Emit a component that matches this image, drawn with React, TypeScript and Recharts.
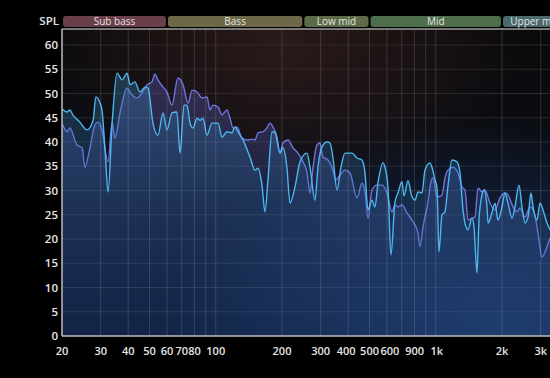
import React from "react";
import {
  AreaChart,
  Area,
  XAxis,
  YAxis,
  CartesianGrid,
  ReferenceLine,
  ReferenceArea,
} from "recharts";

// measurement A (light cyan)
const cyanFreq = [
  20, 21.1, 21.7, 22.4, 24.1, 26, 27.7, 28.5, 29.8, 30.4, 31.4, 32.4, 33.8, 35.6,
  37.5, 39.5, 40.8, 42.9, 45.2, 47.7, 49.2, 51.8, 54.6, 57.6, 60, 63.2, 66.6,
  68.8, 71.7, 74, 76.4, 78.8, 82.2, 84.8, 87.5, 91.2, 96.1, 102.4, 106.7, 112.5,
  118.5, 122.3, 126.2, 133, 143.1, 150.8, 155.6, 162.2, 167.4, 172.7, 180.1,
  185.9, 195.9, 202.1, 210.7, 217.5, 229.1, 241.4, 259.8, 268.1, 282.5, 291.5,
  304, 320.3, 330.6, 341.1, 355.7, 370.9, 386.7, 416.2, 438.6, 462, 476.8, 492,
  513, 529, 546, 575.6, 587.8, 606.6, 625.8, 652.6, 673.6, 702.4, 717, 747.8,
  779.8, 804.6, 830.4, 865.8, 893.4, 941.4, 961, 992, 1013, 1034, 1067, 1101,
  1137, 1185, 1249, 1289, 1330, 1372, 1401, 1461, 1492, 1540, 1572, 1623, 1657,
  1710, 1728, 1801, 1859, 1918, 2000, 2064, 2130, 2221, 2291, 2389, 2466, 2545,
  2626, 2710, 2767, 2885, 2977, 3072, 3204, 3306,
];
const cyanSpl = [
  46.8, 46.2, 46.6, 45.6, 44.1, 42.5, 44.5, 49.3, 48, 46.6, 38.1, 29.7, 43.9, 54.2,
  52.8, 54.2, 51.8, 52.4, 50.3, 51.3, 51.1, 43.9, 41.4, 46, 42.5, 46, 46.2, 37.7,
  47.6, 47.6, 43.9, 42.9, 44.9, 44.5, 44.9, 41.4, 43.9, 43.9, 41, 42.1, 41.9,
  43.1, 42.1, 40.4, 36.9, 34.2, 34.6, 31.1, 25.6, 32.2, 42.1, 41.9, 37.7, 38.8,
  34.6, 27.4, 30.7, 35.9, 37.7, 34.8, 28, 34.8, 39, 40, 39.8, 36.7, 30.1, 34.8,
  37.7, 37.7, 36.7, 36.3, 33.6, 26, 28, 26.6, 31.5, 35.7, 34.8, 30.5, 16.7, 27.6,
  29.5, 31.8, 28.9, 32, 28.7, 28, 29.7, 29.5, 34.2, 35.7, 34.8, 32.2, 30.5, 17.3,
  25, 25.6, 31, 36.3, 35.9, 33.6, 26, 22.5, 21.9, 24.3, 22.5, 13, 23.9, 29.1,
  30.1, 26.6, 23.3, 25.4, 27.4, 23.9, 26.6, 29.5, 27.4, 24.3, 26.6, 31.1, 26.6,
  23.3, 24.5, 29.5, 26.6, 23.9, 27.4, 26, 23.3, 21.9,
];

// measurement B (violet)
const violetFreq = [
  20, 21.1, 21.7, 23.4, 24.7, 25.4, 26.8, 28.2, 29.1, 30.4, 32.4, 33.8, 34.8,
  36.7, 39.5, 41.6, 43.9, 46.2, 48.7, 51.3, 52.9, 54.6, 57.6, 60, 63.2, 67.3, 71,
  74.8, 78, 82.2, 86.6, 91.2, 94.1, 97.1, 102.4, 106.7, 112.5, 116.1, 119.8,
  124.9, 131.6, 138.7, 146.1, 150.8, 155.6, 163.9, 170.9, 176.4, 182, 189.8,
  195.9, 202.1, 213, 224.4, 236.4, 249.1, 259.8, 268.1, 276.7, 288.5, 297.7,
  307.2, 323.7, 337.5, 352, 367, 386.7, 407.6, 438.6, 462, 476.8, 492, 513, 540.6,
  569.6, 600.2, 632.5, 652.6, 673.6, 702.4, 740, 779.8, 804.6, 830.4, 848, 875,
  922, 951.4, 971.4, 1013, 1067, 1101, 1137, 1198, 1262, 1316, 1358, 1401, 1461,
  1508, 1556, 1623, 1674, 1764, 1859, 1959, 2064, 2130, 2244, 2340, 2415, 2545,
  2682, 2796, 2915, 3040, 3204, 3306,
];
const violetSpl = [
  43.9, 42.1, 42.9, 39.4, 38.8, 34.8, 38.8, 43.5, 44.1, 42.5, 35.9, 44.1, 40.8,
  46, 51.1, 49.7, 49.1, 50.1, 51.8, 52.4, 54, 52.8, 51.3, 50.3, 47.6, 53.2, 51.8,
  48, 50.7, 50.3, 49.1, 49.3, 46.6, 47.6, 47.2, 45.6, 46.6, 44.9, 42.9, 43.1,
  40.8, 40.4, 40.6, 40.4, 41.9, 42.1, 42.9, 43.9, 43.1, 41, 37.7, 39.8, 40.4,
  38.8, 37.7, 35.9, 33.8, 29.5, 34.8, 39.4, 39.8, 36.9, 36.3, 34.8, 32.2, 33.2,
  34.2, 33.6, 28.5, 31.5, 29.7, 24.3, 30.1, 31.1, 31.1, 29.5, 25.6, 27, 26.6, 27,
  25.4, 23.9, 22.9, 21.2, 18.4, 22.5, 27.6, 31.8, 32.6, 28.7, 29, 32.6, 34.2,
  34.8, 33.6, 30.7, 30.1, 23.9, 24.3, 24.5, 30.5, 29.7, 30.1, 27.4, 26, 28.5,
  29.5, 29.1, 26.6, 25.6, 26.4, 24.5, 26.6, 25.6, 21.2, 16.3, 18.4, 20.2,
];

const bandNames = ["Sub bass", "Bass", "Low mid", "Mid", "Upper mid"];
const bandStart = [20, 60, 250, 500, 2000];
const bandEnd = [60, 250, 500, 2000, 4000];
const bandColors = ["#6b3f49", "#6c6848", "#5d6b48", "#4d6d4c", "#4a6a6b"];

const freqTicks = [20, 30, 40, 50, 60, 70, 80, 100, 200, 300, 400, 500, 600, 900, 1000, 2000, 3000];
const gridFreqs = [30, 40, 50, 60, 70, 80, 90, 100, 200, 300, 400, 500, 600, 700, 800, 900, 1000, 2000, 3000];
const splTicks = [0, 5, 10, 15, 20, 25, 30, 35, 40, 45, 50, 55, 60];

const cyanData = cyanFreq.map((f, i) => ({ freq: f, spl: cyanSpl[i] }));
const violetData = violetFreq.map((f, i) => ({ freq: f, spl: violetSpl[i] }));

const Y_TOP = 63.3;
const font = "'Open Sans', 'Noto Sans', sans-serif";

const fmtFreq = (v: number) => (v >= 1000 ? `${v / 1000}k` : `${v}`);

// the original nudges a few crowded labels sideways
const tickNudge: Record<number, number> = { 400: -2, 600: 3, 900: -11, 1000: 1 };

const FreqTick = (props: any) => {
  const { x, y, payload } = props;
  const v = payload.value as number;
  return (
    <text
      x={x + (tickNudge[v] || 0)}
      y={y}
      dy="0.71em"
      textAnchor="middle"
      fill="#e6e6e6"
      fontSize={11}
      fontFamily={font}
      fontWeight={600}
    >
      {fmtFreq(v)}
    </text>
  );
};

const BandShape = (props: any) => {
  const { x, y, width, height, name, color } = props;
  return (
    <g>
      <rect x={x + 1} y={y} width={width - 2} height={height} rx={3} ry={3} fill={color} />
      <text
        x={x + width / 2}
        y={y + height / 2 + 3.5}
        textAnchor="middle"
        fontSize={10}
        fontFamily={font}
        fill="#e4e4e4"
      >
        {name}
      </text>
    </g>
  );
};

export default function App() {
  return (
    <div
      style={{
        position: "absolute",
        left: 0,
        top: 0,
        width: 550,
        height: 378,
        background: "#000",
        overflow: "hidden",
      }}
    >
      <span
        style={{
          position: "absolute",
          right: 491,
          top: 13,
          fontFamily: font,
          fontWeight: 600,
          fontSize: 11.5,
          color: "#e6e6e6",
        }}
      >
        SPL
      </span>
      <AreaChart
        width={550}
        height={378}
        margin={{ top: 29, right: 0, bottom: 0, left: 0 }}
      >
        <defs>
          <linearGradient id="bgLin" x1="0" y1="0" x2="0" y2="1">
            <stop offset="0%" stopColor="#0b0a0a" />
            <stop offset="60%" stopColor="#0a0f1b" />
            <stop offset="100%" stopColor="#0c1830" />
          </linearGradient>
          <radialGradient id="glowRed" cx="0.45" cy="0.05" r="0.5">
            <stop offset="0%" stopColor="#382020" stopOpacity={0.7} />
            <stop offset="100%" stopColor="#382020" stopOpacity={0} />
          </radialGradient>
          <radialGradient id="glowBlue" cx="0.9" cy="1" r="0.7">
            <stop offset="0%" stopColor="#2c5596" stopOpacity={0.5} />
            <stop offset="100%" stopColor="#2c5596" stopOpacity={0} />
          </radialGradient>
          <linearGradient id="cyanFill" x1="0" y1="0" x2="0" y2="1">
            <stop offset="0%" stopColor="#3a8ac0" stopOpacity={0.34} />
            <stop offset="100%" stopColor="#2a5aa0" stopOpacity={0.1} />
          </linearGradient>
          <linearGradient id="violetFill" x1="0" y1="0" x2="0" y2="1">
            <stop offset="0%" stopColor="#6060c0" stopOpacity={0.36} />
            <stop offset="100%" stopColor="#3052a4" stopOpacity={0.1} />
          </linearGradient>
        </defs>
        <CartesianGrid
          vertical={false}
          stroke="rgba(255,255,255,0.13)"
          fill="url(#bgLin)"
          fillOpacity={1}
        />
        <ReferenceArea x1={20} x2={3306} y1={0} y2={Y_TOP} fill="url(#glowRed)" fillOpacity={1} stroke="none" />
        <ReferenceArea x1={20} x2={3306} y1={0} y2={Y_TOP} fill="url(#glowBlue)" fillOpacity={1} stroke="none" />
        {gridFreqs.map((f) => (
          <ReferenceLine key={f} x={f} stroke="rgba(255,255,255,0.14)" />
        ))}
        <XAxis
          dataKey="freq"
          type="number"
          scale="log"
          domain={[20, 3306]}
          allowDataOverflow
          ticks={freqTicks}
          interval={0}
          height={42}
          tickLine={false}
          tickSize={0}
          tickMargin={11}
          axisLine={{ stroke: "#bdbdbd", strokeWidth: 1.5 }}
          tick={<FreqTick />}
        />
        <YAxis
          type="number"
          domain={[0, Y_TOP]}
          allowDataOverflow
          ticks={splTicks}
          interval={0}
          width={62}
          tickLine={false}
          tickSize={0}
          tickMargin={4}
          axisLine={{ stroke: "#bdbdbd", strokeWidth: 1.5 }}
          tick={{ fill: "#e6e6e6", fontSize: 11.5, fontFamily: font, fontWeight: 600 }}
        />
        <ReferenceLine y={Y_TOP} stroke="#9a9a9a" strokeWidth={1.5} />
        {bandNames.map((name, i) => (
          <ReferenceArea
            key={name}
            x1={bandStart[i]}
            x2={bandEnd[i]}
            y1={63.7}
            y2={66}
            ifOverflow="visible"
            shape={(p: any) => <BandShape {...p} name={name} color={bandColors[i]} />}
          />
        ))}
        <Area
          data={violetData}
          dataKey="spl"
          type="monotone"
          stroke="#6f74dc"
          strokeWidth={1.4}
          fill="url(#violetFill)"
          fillOpacity={1}
          dot={false}
          activeDot={false}
          isAnimationActive={false}
        />
        <Area
          data={cyanData}
          dataKey="spl"
          type="monotone"
          stroke="#4cb6ee"
          strokeWidth={1.4}
          fill="url(#cyanFill)"
          fillOpacity={1}
          dot={false}
          activeDot={false}
          isAnimationActive={false}
        />
      </AreaChart>
    </div>
  );
}
